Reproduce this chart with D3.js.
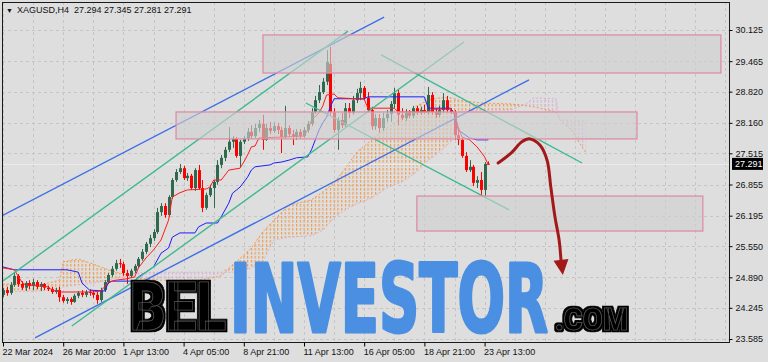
<!DOCTYPE html>
<html>
<head>
<meta charset="utf-8">
<script src="https://cdn.jsdelivr.net/npm/d3@7"></script>
<style>
body { margin: 0; background: #dedede; }
svg { display: block; font-family: "Liberation Sans", Arial, sans-serif; }
</style>
</head>
<body>
<div id="chart"></div>
<script>
// XAGUSD H4, bars indexed from 22 Mar 2024
var opens = [24.52,24.62,24.56,24.73,24.92,24.75,24.67,24.77,24.71,24.79,
24.69,24.75,24.67,24.64,24.58,24.62,24.47,24.39,24.43,24.37,
24.50,24.56,24.52,24.58,24.56,24.52,24.41,24.62,24.79,24.94,
25.07,25.19,25.17,24.98,24.92,25.03,25.13,25.28,25.43,25.60,
25.72,25.85,26.27,26.40,26.21,26.59,26.95,27.12,27.20,26.99,
27.04,26.78,27.16,26.78,26.36,26.63,26.78,26.91,27.27,27.42,
27.59,27.76,27.82,27.46,27.76,27.82,27.97,27.88,28.05,28.14,
27.80,28.05,27.99,28.09,28.01,27.86,28.05,27.92,27.86,27.97,
27.88,28.01,28.14,28.39,28.64,28.81,29.03,29.41,28.39,28.01,
28.22,28.11,28.47,28.37,28.64,28.79,28.90,28.69,28.43,28.09,
28.26,28.05,28.26,28.35,28.56,28.79,28.33,28.26,28.39,28.31,
28.47,28.37,28.43,28.39,28.75,28.39,28.33,28.43,28.64,28.43,
28.39,27.90,27.80,27.46,27.16,27.23,26.89,26.95,26.74,27.294];

var highs = [24.67,24.69,24.79,24.98,24.96,24.81,24.81,24.83,24.86,24.83,
24.79,24.77,24.71,24.69,24.67,24.69,24.52,24.47,24.47,24.54,
24.60,24.62,24.62,24.64,24.60,24.58,24.67,24.83,24.98,25.13,
25.26,25.28,25.22,25.05,25.07,25.17,25.32,25.49,25.64,25.79,
25.91,26.36,26.46,26.46,26.63,26.99,27.18,27.29,27.25,27.10,
27.08,27.20,27.27,26.95,26.68,26.85,26.95,27.37,27.48,27.65,
28.07,27.88,27.86,27.80,27.88,28.05,28.11,28.14,28.22,28.33,
28.14,28.18,28.18,28.16,28.07,28.52,28.11,28.01,28.03,28.03,
28.07,28.20,28.47,28.73,28.96,29.11,29.70,29.77,28.47,28.28,
28.37,28.58,28.58,28.73,28.88,29.03,28.94,28.81,28.50,28.35,
28.35,28.37,28.43,28.62,28.90,28.86,28.47,28.45,28.43,28.52,
28.52,28.50,28.54,28.92,28.81,28.47,28.52,28.79,28.73,28.47,
28.43,28.05,27.86,27.54,27.37,27.27,27.03,27.12,27.33,27.345];

var lows = [24.47,24.50,24.52,24.69,24.69,24.62,24.60,24.64,24.62,24.64,
24.60,24.62,24.60,24.54,24.54,24.37,24.35,24.33,24.31,24.35,
24.45,24.47,24.47,24.50,24.45,24.33,24.37,24.58,24.75,24.90,
25.03,25.09,24.92,24.75,24.88,24.98,25.09,25.24,25.38,25.53,
25.66,25.81,26.19,26.15,26.17,26.55,26.91,27.08,26.95,26.93,
26.74,26.72,26.74,26.27,26.32,26.59,26.36,26.85,27.20,27.35,
27.54,27.63,27.42,27.23,27.71,27.78,27.82,27.84,27.97,27.59,
27.78,27.92,27.95,27.92,27.52,27.82,27.86,27.69,27.80,27.82,
27.84,27.95,28.09,28.35,28.58,28.77,28.96,28.33,27.95,27.59,
28.05,28.07,28.26,28.33,28.58,28.64,28.64,28.39,28.01,28.01,
27.95,27.99,28.18,28.18,28.47,28.11,28.22,28.20,28.26,28.26,
28.33,28.33,28.35,28.33,28.33,28.26,28.28,28.39,28.37,28.35,
27.80,27.69,27.42,27.12,27.12,26.82,26.78,26.63,26.61,27.281];

var closes = [24.62,24.56,24.73,24.92,24.75,24.67,24.77,24.71,24.79,24.69,
24.75,24.67,24.64,24.58,24.62,24.47,24.39,24.43,24.37,24.50,
24.56,24.52,24.58,24.56,24.52,24.41,24.62,24.79,24.94,25.07,
25.19,25.17,24.98,24.92,25.03,25.13,25.28,25.43,25.60,25.72,
25.85,26.27,26.40,26.21,26.59,26.95,27.12,27.20,26.99,27.04,
26.78,27.16,26.78,26.36,26.63,26.78,26.91,27.27,27.42,27.59,
27.76,27.82,27.46,27.76,27.82,27.97,27.88,28.05,28.14,27.80,
28.05,27.99,28.09,28.01,27.86,28.05,27.92,27.86,27.97,27.88,
28.01,28.14,28.39,28.64,28.81,29.03,29.45,28.39,28.01,28.22,
28.11,28.47,28.37,28.64,28.79,28.90,28.69,28.43,28.09,28.26,
28.05,28.26,28.35,28.56,28.79,28.33,28.26,28.39,28.31,28.47,
28.37,28.43,28.39,28.75,28.39,28.33,28.43,28.64,28.43,28.39,
27.90,27.80,27.46,27.16,27.23,26.89,26.95,26.74,27.29,27.291];

// ichimoku lines, [bar, price]
var tenkan = [[0,25.09],[3,25.05],[5,24.79],[6,24.73],[12,24.69],[13,24.62],[15,24.58],[24,24.58],[26,24.60],[27,24.69],
[28,24.79],[30,24.83],[33,24.86],[35,24.90],[36,25.09],[38,25.30],[40,25.47],[42,25.68],[44,26.10],[45,26.59],
[47,26.68],[49,26.74],[54,26.76],[55,26.80],[56,26.95],[58,26.95],[60,27.16],[63,27.20],[64,27.33],[65,27.48],
[66,27.65],[67,27.67],[68,27.84],[80,27.88],[81,28.01],[82,28.22],[84,28.37],[85,28.52],[86,28.75],[88,28.77],
[89,28.69],[96,28.66],[97,28.47],[104,28.47],[105,28.39],[113,28.39],[114,28.45],[119,28.45],[120,28.37],[121,28.07],
[122,27.86],[124,27.80],[126,27.65],[128,27.44],[129,27.27]];

var kijun = [[0,25.11],[3,25.05],[17,25.05],[20,25.00],[21,24.77],[23,24.62],[27,24.60],[28,24.77],[29,24.81],[35,24.81],
[36,24.90],[38,25.00],[40,25.11],[42,25.40],[44,25.51],[45,25.74],[47,25.83],[51,25.83],[52,25.96],[54,26.04],
[57,26.04],[58,26.17],[60,26.46],[61,26.67],[63,26.80],[65,27.01],[66,27.16],[67,27.23],[71,27.27],[72,27.31],
[74,27.33],[76,27.37],[78,27.42],[81,27.44],[82,27.59],[83,27.80],[84,28.01],[85,28.16],[86,28.28],[87,28.50],
[88,28.67],[96,28.67],[97,28.71],[112,28.71],[113,28.47],[119,28.47],[120,28.33],[121,28.01],[124,27.84],[126,27.80],
[129,27.80]];

// [bar, senkou A, senkou B]
var kumo = [[0,24.75,24.58],[10,24.73,24.60],[15,24.83,24.64],[16,25.22,24.69],[20,25.28,24.73],[24,25.17,24.77],
[28,25.05,24.83],[32,24.96,24.90],[35,24.88,24.98],[42,24.83,25.00],[52,24.83,25.00],[58,24.92,25.00],
[62,25.22,25.00],[66,25.51,25.09],[69,25.85,25.22],[72,26.10,25.68],[76,26.42,25.74],[82,26.53,25.77],
[85,26.70,25.89],[88,26.89,26.15],[91,27.20,26.32],[94,27.54,26.44],[98,27.80,26.57],[102,28.05,26.78],
[106,28.26,26.91],[110,28.52,27.12],[113,28.64,27.37],[116,28.69,27.54],[119,28.69,27.76],[121,28.64,28.39],
[127,28.58,28.43],[135,28.56,28.43],[139,28.52,28.56],[141,28.50,28.69],[147,28.39,28.67],[148,28.22,28.22],
[151,28.01,28.20],[153,27.76,28.20],[155,27.52,28.20]];

// drawn objects
var blueChannel = [[[-0.8,26.17],[101.3,30.40]], [[8.5,23.61],[139.8,29.07]]];
var greenUp = [[[-0.8,24.77],[91.7,30.10]], [[18.3,23.86],[122.5,29.87]]];
var greenDown = [[[100.5,29.60],[153.9,27.31]], [[80.5,28.58],[134.5,26.32]]];
var zones = [[69.1,190.8,30.02,29.215], [46.0,168.5,28.39,27.82], [110.0,186.0,26.61,25.87]];
var forecast = [[131.6,27.31],[135.3,27.54],[137.9,27.76],[140.1,27.82],[142.7,27.69],[144.6,27.37],
[145.6,26.80],[146.7,26.17],[147.8,25.68],[148.3,25.26]];
var forecastTip = [148.8,24.94];

var priceTicks = [30.125,29.465,28.820,28.160,27.515,26.855,26.195,25.550,24.890,24.245,23.585];
var timeIdx = [0,16,32,48,64,80,96,112,128];
var timeLabels = ["22 Mar 2024","26 Mar 20:00","1 Apr 13:00","4 Apr 05:00","8 Apr 21:00",
                  "11 Apr 13:00","16 Apr 05:00","18 Apr 21:00","23 Apr 13:00"];
var lastPrice = 27.291;

var W = 768, H = 362,
    pLeft = 2, pRight = 729, pTop = 2, pBottom = 342;

var x = d3.scaleLinear().domain([0, 16]).range([3, 63.2]);
var y = d3.scaleLinear().domain([23.585, 30.125]).range([339, 30]);
var step = x(1) - x(0);

var svg = d3.select("#chart").append("svg")
            .attr("width", W)
            .attr("height", H);

svg.append("rect").attr("width", W).attr("height", H).attr("fill", "#dedede");

var defs = svg.append("defs");
defs.append("clipPath").attr("id", "plot")
    .append("rect").attr("x", pLeft + 1).attr("y", pTop + 1)
    .attr("width", pRight - pLeft - 1).attr("height", pBottom - pTop - 1);

function hatch(id, color) {
  var p = defs.append("pattern").attr("id", id)
              .attr("patternUnits", "userSpaceOnUse")
              .attr("x", x(0) - 0.5).attr("y", 0)
              .attr("width", step).attr("height", 4);
  p.append("rect").attr("x", 0).attr("y", 0).attr("width", 1.2).attr("height", 2.6).attr("fill", color);
}
hatch("kumoUp", "#f09c50");
hatch("kumoDn", "#d6b2d3");

// black halo behind the outlined logo letters
var halo = defs.append("filter").attr("id", "halo")
               .attr("x", "-10%").attr("y", "-20%").attr("width", "120%").attr("height", "140%");
halo.append("feMorphology").attr("in", "SourceAlpha").attr("operator", "dilate").attr("radius", 2.2).attr("result", "fat");
halo.append("feFlood").attr("flood-color", "#000").attr("result", "ink");
halo.append("feComposite").attr("in", "ink").attr("in2", "fat").attr("operator", "in").attr("result", "border");
var hm = halo.append("feMerge");
hm.append("feMergeNode").attr("in", "border");
hm.append("feMergeNode").attr("in", "SourceGraphic");

var chart = svg.append("g").attr("clip-path", "url(#plot)");

// grid
var gridX = d3.range(0, 200, 8);
chart.selectAll(".gx").data(gridX).enter().append("line")
     .attr("x1", function(d) { return Math.round(x(d)) + 0.5; })
     .attr("x2", function(d) { return Math.round(x(d)) + 0.5; })
     .attr("y1", pTop).attr("y2", pBottom)
     .attr("stroke", "#c5c5c5").attr("stroke-dasharray", "3,3");
chart.selectAll(".gy").data(priceTicks).enter().append("line")
     .attr("x1", pLeft).attr("x2", pRight)
     .attr("y1", function(d) { return Math.round(y(d)) + 0.5; })
     .attr("y2", function(d) { return Math.round(y(d)) + 0.5; })
     .attr("stroke", "#c5c5c5").attr("stroke-dasharray", "3,3");

// kumo
chart.append("path").datum(kumo)
     .attr("fill", "url(#kumoUp)")
     .attr("d", d3.area()
        .x(function(d) { return x(d[0]); })
        .y0(function(d) { return y(d[2]); })
        .y1(function(d) { return y(Math.max(d[1], d[2])); }));
chart.append("path").datum(kumo)
     .attr("fill", "url(#kumoDn)")
     .attr("d", d3.area()
        .x(function(d) { return x(d[0]); })
        .y0(function(d) { return y(d[1]); })
        .y1(function(d) { return y(Math.max(d[1], d[2])); }));
chart.append("path").datum(kumo)
     .attr("fill", "none").attr("stroke", "#f09c50").attr("stroke-dasharray", "2,2")
     .attr("d", d3.line().x(function(d) { return x(d[0]); }).y(function(d) { return y(d[1]); }));
chart.append("path").datum(kumo)
     .attr("fill", "none").attr("stroke", "#d6b2d3").attr("stroke-dasharray", "2,2")
     .attr("d", d3.line().x(function(d) { return x(d[0]); }).y(function(d) { return y(d[2]); }));

// bid line
chart.append("line")
     .attr("x1", pLeft).attr("x2", pRight)
     .attr("y1", Math.round(y(lastPrice)) + 0.5).attr("y2", Math.round(y(lastPrice)) + 0.5)
     .attr("stroke", "#ebebeb");

// candles
var bars = closes.map(function(c, i) {
  return {i: i, o: opens[i], h: highs[i], l: lows[i], c: c};
});
function barColor(d) { return d.c >= d.o ? "#2f6a4f" : "#ff0000"; }

chart.selectAll(".wick").data(bars).enter().append("line")
     .attr("x1", function(d) { return Math.round(x(d.i)) + 0.5; })
     .attr("x2", function(d) { return Math.round(x(d.i)) + 0.5; })
     .attr("y1", function(d) { return y(d.h); })
     .attr("y2", function(d) { return y(d.l); })
     .attr("stroke", barColor);
chart.selectAll(".body").data(bars).enter().append("rect")
     .attr("x", function(d) { return Math.round(x(d.i)) - 1; })
     .attr("width", 3)
     .attr("y", function(d) { return y(Math.max(d.o, d.c)); })
     .attr("height", function(d) { return Math.max(1, Math.abs(y(d.o) - y(d.c))); })
     .attr("fill", barColor);

// tenkan / kijun
var line = d3.line().x(function(d) { return x(d[0]); }).y(function(d) { return y(d[1]); });
chart.append("path").datum(kijun).attr("fill", "none").attr("stroke", "#1c1cff").attr("d", line);
chart.append("path").datum(tenkan).attr("fill", "none").attr("stroke", "#ff1a1a").attr("d", line);

// trend lines
function trend(list, color) {
  chart.selectAll(null).data(list).enter().append("path")
       .attr("fill", "none").attr("stroke", color).attr("stroke-width", 1.4)
       .attr("d", line);
}
trend(blueChannel, "#3f6fe6");
trend(greenUp, "#3dba90");
trend(greenDown, "#3dba90");

// zones
chart.selectAll(".zone").data(zones).enter().append("rect")
     .attr("x", function(d) { return x(d[0]); })
     .attr("width", function(d) { return x(d[1]) - x(d[0]); })
     .attr("y", function(d) { return y(d[2]); })
     .attr("height", function(d) { return y(d[3]) - y(d[2]); })
     .attr("fill", "rgba(208,208,208,0.62)")
     .attr("stroke", "#dd8ea4").attr("stroke-width", 1.3);

// forecast arrow
chart.append("path").datum(forecast)
     .attr("fill", "none").attr("stroke", "#a31818").attr("stroke-width", 3)
     .attr("stroke-linecap", "round")
     .attr("d", d3.line().curve(d3.curveCatmullRom)
                .x(function(d) { return x(d[0]); }).y(function(d) { return y(d[1]); }));
(function() {
  var b = forecast[forecast.length - 1];
  var bx = x(b[0]), by = y(b[1]);
  var tx = x(forecastTip[0]), ty = y(forecastTip[1]);
  var dx = tx - bx, dy = ty - by, len = Math.sqrt(dx * dx + dy * dy);
  var nx = -dy / len * 7.5, ny = dx / len * 7.5;
  chart.append("path")
       .attr("d", "M" + tx + "," + ty + "L" + (bx + nx) + "," + (by + ny) + "L" + (bx - nx) + "," + (by - ny) + "Z")
       .attr("fill", "#a31818");
})();

// watermark
var wm = svg.append("g");
function outlined(txt, px, py, size, len) {
  wm.append("text").attr("x", px).attr("y", py)
    .attr("font-family", "Roboto, 'DejaVu Sans', sans-serif").attr("font-weight", 900)
    .attr("font-size", size).attr("textLength", len).attr("lengthAdjust", "spacingAndGlyphs")
    .attr("fill", "#000").attr("stroke", "#5a5a5a").attr("stroke-width", 0.7)
    .attr("filter", "url(#halo)")
    .text(txt);
}
outlined("BEL", 130, 330, 66, 96);
wm.append("text").attr("x", 230).attr("y", 332)
  .attr("font-family", "'Liberation Sans Narrow', 'DejaVu Sans Condensed', sans-serif")
  .attr("font-weight", "bold").attr("font-size", 95)
  .attr("textLength", 318).attr("lengthAdjust", "spacingAndGlyphs")
  .attr("fill", "#4a8fe2").attr("stroke", "#4a8fe2").attr("stroke-width", 3).attr("stroke-linejoin", "round")
  .text("INVESTOR");
outlined(".COM", 555, 330, 32, 73);

// frame and axes
svg.append("rect").attr("x", pLeft + 0.5).attr("y", pTop + 0.5)
   .attr("width", pRight - pLeft).attr("height", pBottom - pTop)
   .attr("fill", "none").attr("stroke", "#1a1a1a");

var yAxis = d3.axisRight(y).tickValues(priceTicks).tickFormat(d3.format(".3f")).tickSize(3).tickPadding(3);
var ya = svg.append("g").attr("transform", "translate(" + (pRight + 0.5) + ",0)").call(yAxis);
ya.select(".domain").remove();
ya.selectAll("text").attr("font-size", 9).attr("fill", "#111").attr("font-family", "'Liberation Sans', Arial, sans-serif");

var xAxis = d3.axisBottom(x).tickValues(timeIdx)
              .tickFormat(function(d, i) { return timeLabels[i]; }).tickSize(4).tickPadding(2);
var xa = svg.append("g").attr("transform", "translate(0," + (pBottom + 0.5) + ")").call(xAxis);
xa.select(".domain").remove();
xa.selectAll("text").attr("text-anchor", "start").attr("dx", -1)
  .attr("font-size", 9).attr("fill", "#111").attr("font-family", "'Liberation Sans', Arial, sans-serif");

// last price label
var ly = y(lastPrice);
svg.append("rect").attr("x", pRight + 3).attr("y", ly - 6).attr("width", 31).attr("height", 12).attr("fill", "#000");
svg.append("text").attr("x", pRight + 6).attr("y", ly + 3.5)
   .attr("font-size", 9).attr("fill", "#fff").text(d3.format(".3f")(lastPrice));

// header
svg.append("text").attr("x", 6).attr("y", 13).attr("font-size", 7).attr("fill", "#111").text("\u25BC");
svg.append("text").attr("x", 17).attr("y", 13).attr("font-size", 9).attr("fill", "#111")
   .attr("xml:space", "preserve")
   .text("XAGUSD,H4  " + opens[129].toFixed(3) + " " + highs[129].toFixed(3) + " " +
         lows[129].toFixed(3) + " " + closes[129].toFixed(3));
</script>
</body>
</html>
